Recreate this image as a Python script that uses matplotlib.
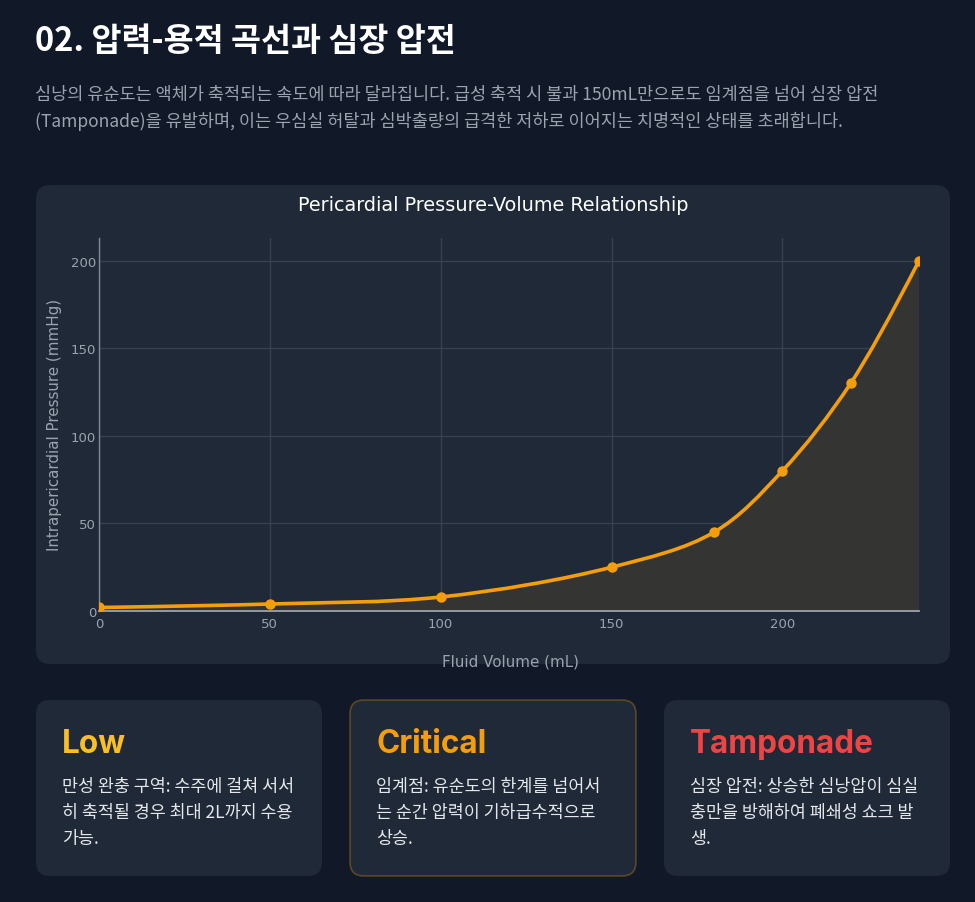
import matplotlib
matplotlib.use("Agg")
import matplotlib.pyplot as plt
from matplotlib.patches import FancyBboxPatch, PathPatch
from matplotlib.path import Path
import numpy as np

# ---------------- data ----------------
volume_ml = [0, 50, 100, 150, 180, 200, 220, 240]
pressure_mmhg = [2, 4, 8, 25, 45, 80, 130, 200]
x_ticks = [0, 50, 100, 150, 200]
y_ticks = [0, 50, 100, 150, 200]

page_title = "02. 압력-용적 곡선과 심장 압전"
page_desc = ["심낭의 유순도는 액체가 축적되는 속도에 따라 달라집니다. 급성 축적 시 불과 150mL만으로도 임계점을 넘어 심장 압전",
             "(Tamponade)을 유발하며, 이는 우심실 허탈과 심박출량의 급격한 저하로 이어지는 치명적인 상태를 초래합니다."]
chart_title = "Pericardial Pressure-Volume Relationship"
x_label = "Fluid Volume (mL)"
y_label = "Intrapericardial Pressure (mmHg)"

card_titles = ["Low", "Critical", "Tamponade"]
card_colors = ["#fbbf24", "#f59e0b", "#ef4444"]
card_texts = [["만성 완충 구역: 수주에 걸쳐 서서", "히 축적될 경우 최대 2L까지 수용", "가능."],
              ["임계점: 유순도의 한계를 넘어서", "는 순간 압력이 기하급수적으로", "상승."],
              ["심장 압전: 상승한 심낭압이 심실", "충만을 방해하여 폐쇄성 쇼크 발", "생."]]

# ---------------- layout ----------------
W, H = 975, 903
BG = "#111827"
CARD = "#1f2937"
KFONT = ["Noto Sans CJK KR", "DejaVu Sans"]

fig = plt.figure(figsize=(W / 100, H / 100), dpi=100, facecolor=BG)
bg_ax = fig.add_axes([0, 0, 1, 1])
bg_ax.set_xlim(0, W)
bg_ax.set_ylim(H, 0)
bg_ax.axis("off")
bg_ax.set_facecolor(BG)


def px_box(x0, y0, x1, y1, fc, ec="none", lw=0, r=14, z=0):
    p = FancyBboxPatch((x0 + r, y0 + r), (x1 - x0) - 2 * r, (y1 - y0) - 2 * r,
                       boxstyle=f"round,pad={r}", fc=fc, ec=ec, lw=lw, zorder=z)
    bg_ax.add_patch(p)
    return p


# header
bg_ax.text(35, 42, page_title, family=KFONT, fontsize=23.5, fontweight="bold",
           color="white", va="center", ha="left")
for i, line in enumerate(page_desc):
    bg_ax.text(35, 95 + i * 26, line, family=KFONT, fontsize=12.6, color="#9ca3af",
               va="center", ha="left")

# chart card
chart_card = px_box(36, 186, 950, 665, CARD, r=14)

# chart title and labels
bg_ax.text(493, 206, chart_title, family="DejaVu Sans", fontsize=13.9,
           color="white", ha="center", va="center")
bg_ax.text(55, 425, y_label, family="DejaVu Sans", fontsize=10.9, color="#9ca3af",
           rotation=90, ha="center", va="center")
xl = bg_ax.text(510, 662, x_label, family="DejaVu Sans", fontsize=10.9, color="#9ca3af",
                ha="center", va="center")
xl.set_clip_path(chart_card)

# bottom cards
card_x = [(36, 322), (350, 636), (664, 950)]
for i, (x0, x1) in enumerate(card_x):
    if i == 1:
        px_box(x0, 701, x1, 877, CARD, ec=(0.96, 0.62, 0.04, 0.3), lw=1.2, r=14)
    else:
        px_box(x0, 701, x1, 877, CARD, r=14)
    bg_ax.text(x0 + 26, 745, card_titles[i], family=["Inter", "DejaVu Sans"],
               fontsize=22.7, fontweight="bold", color=card_colors[i], ha="left", va="center")
    for j, line in enumerate(card_texts[i]):
        bg_ax.text(x0 + 26, 787 + j * 26, line, family=KFONT, fontsize=12.5,
                   fontweight="medium", color="#e5e7eb", ha="left", va="center")

# ---------------- plot ----------------
ax_l, ax_r, ax_b, ax_t = 99, 919, 612, 239
ax = fig.add_axes([ax_l / W, (H - ax_b) / H, (ax_r - ax_l) / W, (ax_b - ax_t) / H])
ax.set_facecolor(CARD)
ax.patch.set_alpha(0)
xmin, xmax = 0, 240
ymin, ymax = 0, 213
ax.set_xlim(xmin, xmax)
ax.set_ylim(ymin, ymax)

# plotly-style spline through the data (computed in pixel space)
sx = (ax_r - ax_l) / (xmax - xmin)
sy = (ax_b - ax_t) / (ymax - ymin)
pts = np.column_stack([np.array(volume_ml, float) * sx, np.array(pressure_mmhg, float) * sy])


def tangent(p0, p1, p2, s=1.0):
    d1 = p0 - p1
    d2 = p2 - p1
    d1a = (d1 @ d1) ** 0.25
    d2a = (d2 @ d2) ** 0.25
    num = (d2a * d2a * d1 - d1a * d1a * d2) * s
    den1 = 3 * d2a * (d1a + d2a)
    den2 = 3 * d1a * (d1a + d2a)
    return p1 + num / den1, p1 - num / den2


tans = [tangent(pts[i - 1], pts[i], pts[i + 1]) for i in range(1, len(pts) - 1)]
verts = [pts[0], tans[0][0], pts[1]]
codes = [Path.MOVETO, Path.CURVE3, Path.CURVE3]
for i in range(2, len(pts) - 1):
    verts += [tans[i - 2][1], tans[i - 1][0], pts[i]]
    codes += [Path.CURVE4] * 3
verts += [tans[-1][1], pts[-1]]
codes += [Path.CURVE3] * 2
verts = np.array(verts) / np.array([sx, sy])

line_path = Path(verts, codes)
fill_verts = np.vstack([verts, [[volume_ml[-1], 0], [volume_ml[0], 0], verts[0]]])
fill_codes = codes + [Path.LINETO, Path.LINETO, Path.CLOSEPOLY]
ax.add_patch(PathPatch(Path(fill_verts, fill_codes), fc="#343533",
                       ec="none", zorder=2))
ax.add_patch(PathPatch(line_path, fc="none", ec="#f59e0b", lw=2.6, zorder=3,
                       capstyle="round", joinstyle="round"))
ax.plot(volume_ml, pressure_mmhg, "o", color="#f59e0b", ms=6.5, zorder=4)

ax.set_xticks(x_ticks)
ax.set_yticks(y_ticks)
ax.grid(True, color="#374151", lw=1)
ax.set_axisbelow(True)
for s in ["top", "right"]:
    ax.spines[s].set_visible(False)
ax.spines["left"].set_color("#858b95")
ax.spines["bottom"].set_color("#9ca3af")
ax.spines["left"].set_linewidth(1)
ax.spines["bottom"].set_linewidth(1.3)
ax.tick_params(length=0, colors="#9ca3af", labelsize=9.5)
ax.tick_params(axis="y", pad=2)
ax.tick_params(axis="x", pad=4)
for lbl in ax.get_xticklabels() + ax.get_yticklabels():
    lbl.set_family("DejaVu Sans")

fig.savefig("out.png", dpi=100, facecolor=BG)
